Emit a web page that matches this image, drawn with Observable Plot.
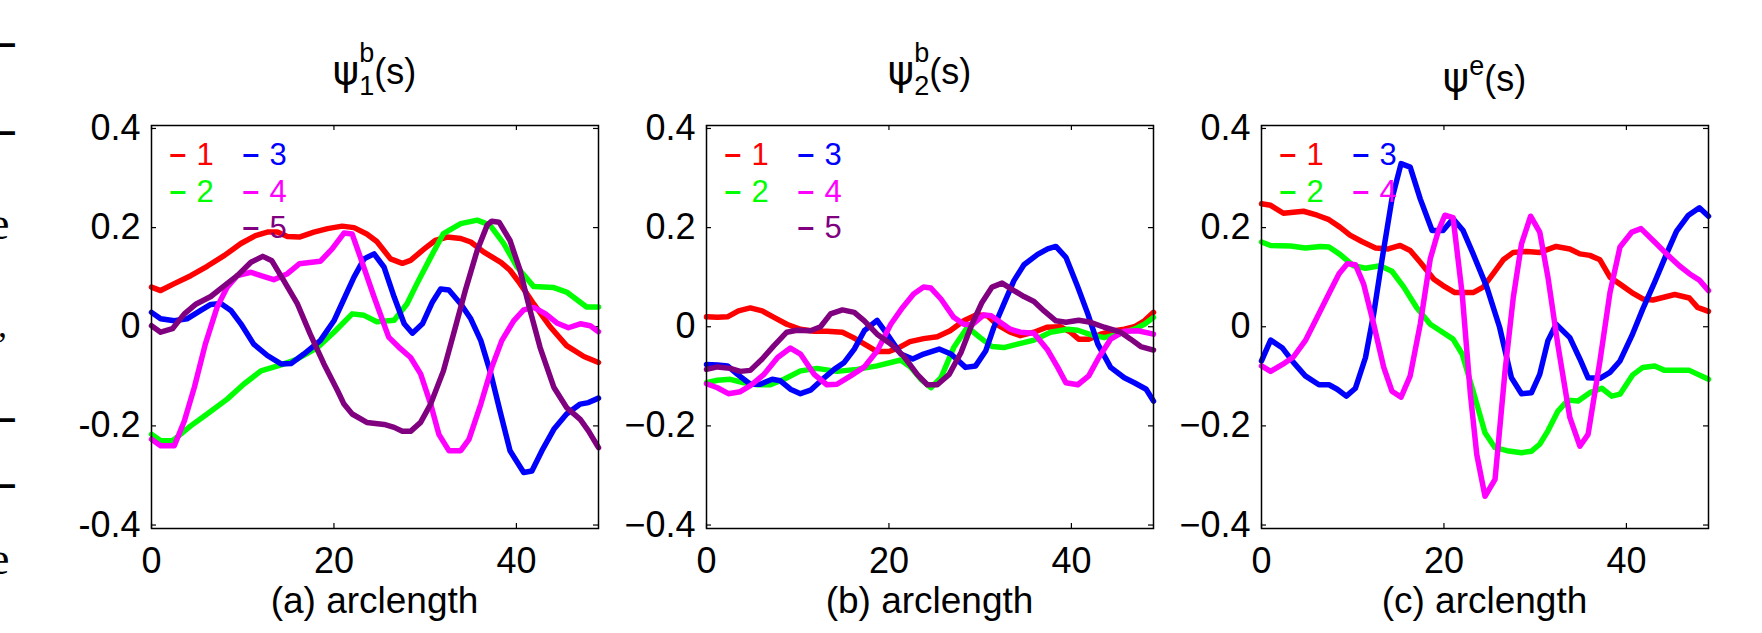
<!DOCTYPE html>
<html><head><meta charset="utf-8">
<script src="https://cdn.jsdelivr.net/npm/d3@7"></script>
<script src="https://cdn.jsdelivr.net/npm/@observablehq/plot@0.6"></script>
<style>
body{margin:0;background:#fff;}
#wrap{position:relative;width:1762px;height:633px;overflow:hidden;background:#fff;}
#wrap svg{position:absolute;top:0;}
</style></head><body><div id="wrap"></div>
<script>
const xTicks = [0, 20, 40];
const yTicks = [-0.4, -0.2, 0, 0.2, 0.4];
const modeLabels = ["1", "2", "3", "4", "5"];
const modeColors = ["#ff0000", "#00ff00", "#0000ff", "#ff00ff", "#800080"];
const xLabels = ["(a) arclength", "(b) arclength", "(c) arclength"];
const titleSups = ["b", "b", "e"];
const titleSubs = ["1", "2", ""];

// Panel (a): psi_1^b(s)
const a1 = [[0,0.080],[1,0.073],[2.5,0.087],[4.3,0.103],[6.1,0.122],[8,0.144],[9.8,0.168],[11.4,0.184],[12.7,0.191],[13.8,0.191],[14.9,0.182],[16.2,0.181],[17.8,0.191],[19.3,0.198],[20.9,0.203],[22.2,0.2],[23.6,0.187],[24.7,0.172],[26.2,0.137],[27.5,0.128],[28.4,0.134],[29.9,0.157],[31.1,0.174],[32.4,0.181],[33.9,0.178],[35,0.171],[36.4,0.151],[38.3,0.13],[39.3,0.114],[40.4,0.087],[41.9,0.046],[43.7,0],[45.5,-0.038],[47.4,-0.06],[49,-0.072]];
const a2 = [[0,-0.217],[1,-0.23],[2.3,-0.23],[4.3,-0.2],[6.1,-0.176],[8.3,-0.146],[10.1,-0.116],[12,-0.089],[14.2,-0.077],[16,-0.065],[18.2,-0.042],[20,-0.011],[22,0.026],[23.3,0.023],[24.7,0.01],[26.6,0.013],[28,0.046],[29.1,0.087],[30.6,0.14],[32,0.188],[33.9,0.208],[35.7,0.215],[37.1,0.205],[38.6,0.168],[40.1,0.12],[41.9,0.081],[44.1,0.079],[45.5,0.07],[47.7,0.04],[49,0.04]];
const a3 = [[0,0.029],[1,0.016],[2.5,0.012],[3.9,0.016],[5.4,0.033],[6.5,0.045],[7.6,0.047],[8.7,0.033],[9.8,0.006],[11.2,-0.035],[12.7,-0.058],[14.2,-0.075],[15.3,-0.074],[16.7,-0.055],[18.5,-0.028],[20,0.012],[21.1,0.056],[22.2,0.1],[23.3,0.137],[24.4,0.147],[25.5,0.12],[26.6,0.06],[27.7,0.006],[28.6,-0.013],[29.7,0.006],[30.8,0.05],[31.7,0.076],[32.6,0.074],[33.9,0.046],[35,0.016],[36.1,-0.028],[37.2,-0.095],[38.2,-0.17],[39.3,-0.25],[40.8,-0.294],[41.7,-0.291],[42.8,-0.25],[44.1,-0.207],[45.5,-0.176],[47,-0.156],[47.9,-0.153],[49,-0.144]];
const a4 = [[0,-0.227],[1,-0.24],[2.5,-0.24],[3.6,-0.19],[4.7,-0.122],[5.9,-0.035],[7.2,0.04],[8.3,0.08],[9.4,0.103],[10.9,0.11],[12,0.103],[13.4,0.095],[14.9,0.107],[16.2,0.127],[18.5,0.132],[19.8,0.157],[21.1,0.189],[22,0.187],[22.9,0.14],[24.4,0.06],[26,-0.021],[27.1,-0.041],[28.4,-0.062],[29.5,-0.095],[30.6,-0.156],[31.5,-0.217],[32.6,-0.25],[33.9,-0.25],[34.8,-0.227],[36.1,-0.156],[37.3,-0.082],[38.4,-0.028],[39.7,0.012],[40.8,0.034],[41.9,0.039],[43.2,0.026],[44.5,0.007],[45.7,-0.002],[47,0.006],[48.1,0.002],[49,-0.01]];
const a5 = [[0,0.002],[1,-0.011],[2.3,-0.004],[3.6,0.026],[4.9,0.046],[6.5,0.061],[8,0.083],[9.4,0.103],[10.9,0.13],[12.2,0.142],[13.2,0.133],[14.5,0.093],[16,0.046],[17.4,-0.015],[18.9,-0.075],[20.4,-0.129],[21.1,-0.156],[22,-0.176],[23.6,-0.193],[25.5,-0.197],[26.6,-0.203],[27.5,-0.211],[28.4,-0.211],[29.5,-0.193],[30.6,-0.156],[32,-0.089],[33.1,-0.015],[34.4,0.073],[35.7,0.154],[36.8,0.205],[37.3,0.213],[38.1,0.211],[39.3,0.174],[40.4,0.114],[41.5,0.033],[42.6,-0.042],[44.1,-0.122],[45.5,-0.163],[47,-0.187],[47.9,-0.21],[49,-0.244]];

// Panel (b): psi_2^b(s)
const b1 = [[0,0.02],[1.2,0.019],[2.3,0.02],[3.5,0.032],[4.8,0.038],[6.1,0.032],[7.4,0.019],[8.8,0.005],[10.3,-0.005],[11.8,-0.009],[13.2,-0.009],[14.9,-0.011],[16.1,-0.022],[17.6,-0.038],[18.7,-0.05],[20,-0.05],[21.1,-0.042],[22.3,-0.03],[23.8,-0.024],[25.3,-0.02],[26.7,-0.008],[28.2,0.012],[29.6,0.024],[30.8,0.022],[31.8,0.005],[33.3,-0.011],[34.4,-0.018],[35.9,-0.011],[37.3,-0.001],[38.8,0],[39.9,-0.011],[40.8,-0.025],[41.9,-0.025],[43.2,-0.015],[44.7,-0.008],[45.8,-0.005],[46.9,0],[48,0.012],[49,0.029]];
const b2 = [[0,-0.113],[1.2,-0.108],[2.6,-0.106],[4.1,-0.113],[5.6,-0.117],[7,-0.117],[8.5,-0.106],[10.3,-0.089],[12.1,-0.084],[14.3,-0.09],[16.5,-0.086],[18.7,-0.079],[21.3,-0.067],[22.4,-0.082],[23.5,-0.106],[24.6,-0.123],[25.7,-0.103],[27.1,-0.042],[28.6,-0.001],[30,-0.022],[31.3,-0.04],[32.6,-0.042],[34.1,-0.035],[35.9,-0.027],[37.7,-0.011],[39.6,-0.005],[40.7,-0.007],[42.1,-0.016],[43.6,-0.022],[45,-0.016],[46.9,-0.005],[48,0.005],[49,0.019]];
const b3 = [[0,-0.076],[1.2,-0.077],[2.3,-0.079],[3.4,-0.096],[4.8,-0.116],[5.9,-0.116],[7.2,-0.106],[8.1,-0.109],[9.2,-0.126],[10.3,-0.135],[11.4,-0.128],[12.9,-0.103],[14,-0.086],[15.1,-0.072],[16.2,-0.045],[17.3,-0.008],[18.7,0.013],[19.8,-0.015],[21.3,-0.055],[22.6,-0.065],[23.8,-0.055],[25.5,-0.045],[26.8,-0.055],[28.4,-0.082],[29.5,-0.079],[30.6,-0.049],[31.5,-0.001],[32.6,0.046],[33.7,0.093],[34.8,0.125],[36.3,0.146],[37.4,0.157],[38.3,0.162],[39.4,0.14],[40.7,0.08],[41.8,0.026],[42.9,-0.035],[44.3,-0.082],[45.8,-0.103],[46.9,-0.113],[48.2,-0.126],[49,-0.15]];
const b4 = [[0,-0.115],[1.2,-0.123],[2.4,-0.135],[3.7,-0.131],[4.8,-0.119],[6.3,-0.096],[7.8,-0.062],[9.2,-0.043],[10.3,-0.055],[11.8,-0.096],[13.2,-0.117],[14.3,-0.116],[15.8,-0.099],[17.3,-0.081],[18.7,-0.049],[20.2,0.005],[21.5,0.039],[22.7,0.066],[23.8,0.08],[24.6,0.078],[25.7,0.056],[27.1,0.019],[28.2,0.005],[29.1,0.004],[30.4,0.024],[31.2,0.022],[32.2,0.009],[33.3,-0.005],[34.4,-0.011],[35.9,-0.013],[37.4,-0.047],[38.5,-0.082],[39.4,-0.113],[40.7,-0.117],[41.9,-0.099],[43,-0.062],[44.3,-0.025],[45.8,-0.009],[47.3,-0.008],[49,-0.015]];
const b5 = [[0,-0.086],[1.2,-0.081],[2.6,-0.084],[3.7,-0.09],[4.8,-0.088],[6.1,-0.065],[7.4,-0.038],[8.8,-0.011],[9.9,-0.007],[11.4,-0.008],[12.5,0],[13.6,0.026],[14.9,0.034],[16.2,0.029],[17.3,0.012],[18.7,-0.015],[20.2,-0.035],[21.6,-0.059],[23.1,-0.096],[24.2,-0.117],[25.3,-0.117],[26.6,-0.096],[27.9,-0.052],[29.1,0.005],[30.2,0.049],[31.3,0.08],[32.4,0.088],[33.7,0.073],[34.8,0.061],[35.9,0.051],[37,0.032],[38.3,0.012],[39.4,0.009],[40.8,0.013],[42.1,0.009],[43.6,-0.001],[45.4,-0.011],[46.5,-0.025],[47.6,-0.04],[49,-0.047]];

// Panel (c): psi^e(s)
const c1 = [[0,0.248],[1,0.245],[2.4,0.229],[4.6,0.233],[6.1,0.225],[7.4,0.216],[8.6,0.201],[9.7,0.185],[11,0.172],[12.5,0.159],[13.9,0.157],[15.2,0.164],[16.3,0.154],[17.4,0.13],[18.9,0.096],[19.9,0.083],[21.2,0.069],[23.2,0.069],[24.3,0.08],[25.4,0.107],[26.5,0.135],[27.6,0.15],[29.1,0.152],[30.5,0.15],[32.3,0.162],[33.8,0.157],[34.9,0.147],[36,0.144],[37.1,0.135],[38.2,0.1],[39.3,0.086],[40.6,0.069],[41.8,0.056],[42.9,0.054],[44,0.059],[45.3,0.065],[46.9,0.058],[47.8,0.039],[49,0.031]];
const c2 = [[0,0.171],[1,0.164],[3.2,0.163],[4.8,0.159],[6.5,0.162],[7.4,0.161],[8.6,0.146],[10.1,0.123],[11.4,0.118],[13,0.123],[14.3,0.112],[15.6,0.08],[17,0.039],[18.5,0.005],[19.6,-0.008],[21,-0.025],[22,-0.055],[23.2,-0.13],[24.5,-0.214],[25.6,-0.244],[26.9,-0.25],[28.5,-0.254],[29.6,-0.251],[30.5,-0.237],[31.4,-0.21],[32.5,-0.17],[33.6,-0.148],[34.7,-0.15],[36,-0.133],[37.3,-0.124],[38.4,-0.14],[39.3,-0.136],[40.7,-0.097],[41.8,-0.082],[43.1,-0.079],[44.2,-0.088],[46.9,-0.088],[49,-0.106]];
const c3 = [[0,-0.069],[1,-0.027],[2.3,-0.043],[3.5,-0.072],[4.8,-0.099],[6.3,-0.117],[7.4,-0.117],[8.3,-0.126],[9.3,-0.14],[10.3,-0.124],[11.4,-0.062],[12.3,0.026],[13.2,0.134],[14.3,0.258],[15.3,0.329],[16.3,0.322],[17.4,0.258],[18.7,0.194],[19.9,0.194],[21,0.218],[22.1,0.194],[23.2,0.147],[24.7,0.08],[26.1,-0.001],[27.4,-0.103],[28.5,-0.135],[29.6,-0.133],[30.5,-0.096],[31.4,-0.028],[32.3,0.005],[33.8,-0.022],[34.9,-0.065],[35.8,-0.103],[37.1,-0.104],[38.2,-0.092],[39.3,-0.069],[40.6,-0.018],[41.8,0.036],[43.1,0.09],[44.4,0.147],[45.5,0.193],[46.8,0.225],[48,0.24],[49,0.223]];
const c4 = [[0,-0.079],[1,-0.09],[2.3,-0.076],[3.5,-0.061],[4.8,-0.028],[6.1,0.019],[7.4,0.067],[8.5,0.107],[9.4,0.127],[10.3,0.125],[11.2,0.086],[12.3,0.005],[13.4,-0.082],[14.3,-0.13],[15.3,-0.142],[16.3,-0.099],[17.4,0.005],[18.5,0.137],[19.4,0.194],[20.1,0.225],[21,0.22],[22,0.066],[22.9,-0.136],[23.6,-0.258],[24.5,-0.342],[25.6,-0.308],[26.7,-0.089],[27.6,0.059],[28.5,0.167],[29.5,0.223],[30.5,0.191],[31.4,0.1],[32.5,-0.038],[33.8,-0.183],[34.9,-0.241],[35.8,-0.217],[37.1,-0.069],[38.2,0.069],[39.3,0.161],[40.6,0.191],[41.6,0.198],[43.1,0.171],[44.4,0.147],[45.8,0.123],[46.9,0.107],[48,0.094],[49,0.073]];

const panels = [
  {left: 0, series: [a1, a2, a3, a4, a5], minus: "-", titleY: 84},
  {left: 555, series: [b1, b2, b3, b4, b5], minus: "\u2212", titleY: 84},
  {left: 1110, series: [c1, c2, c3, c4], minus: "\u2212", titleY: 91}
];

const W = 600, H = 633, mL = 151, mT = 125, mB = 105, frameW = 447;
const frameH = H - mT - mB;
const FONT = "Liberation Sans, Arial, Helvetica, sans-serif";
const wrap = document.getElementById("wrap");

panels.forEach((p, pi) => {
  const rows = [];
  p.series.forEach((s, k) => s.forEach(([x, y]) => rows.push({x, y, k})));
  const fmt = d => d === 0 ? "0" : (d < 0 ? p.minus + Math.abs(d).toFixed(1) : d.toFixed(1));
  const legendMarks = [];
  p.series.forEach((s, i) => {
    const col = i < 2 ? 0 : 1, row = i < 2 ? i : i - 2;
    legendMarks.push(Plot.text([modeLabels[i]], {text: () => "\u2013", frameAnchor: "top-left", textAnchor: "start", lineAnchor: "middle",
      dx: 18 + col * 73, dy: 29 + row * 36.5, fill: modeColors[i], fontSize: 30, fontWeight: "bold"}));
    legendMarks.push(Plot.text([modeLabels[i]], {text: d => d, frameAnchor: "top-left", textAnchor: "start", lineAnchor: "middle",
      dx: 45 + col * 73, dy: 30 + row * 36.5, fill: modeColors[i], fontSize: 31}));
  });
  const svg = Plot.plot({
    width: W, height: H, marginLeft: mL, marginRight: W - mL - frameW, marginTop: mT, marginBottom: mB,
    x: {domain: [0, 49]},
    y: {domain: [-0.407, 0.406]},
    color: {type: "ordinal", domain: [0, 1, 2, 3, 4], range: modeColors},
    style: {fontFamily: FONT, fontSize: "36px", color: "#000", background: "transparent", overflow: "visible"},
    marks: [
      Plot.axisX(xTicks, {tickSize: 0, tickPadding: 19, fontSize: 36, label: null, tickFormat: d => String(d)}),
      Plot.axisY(yTicks, {tickSize: 0, tickPadding: 11, fontSize: 36, label: null, tickFormat: fmt}),
      Plot.ruleY(yTicks, {stroke: "#000", strokeWidth: 1.2, insetRight: frameW - 5}),
      Plot.ruleY(yTicks, {stroke: "#000", strokeWidth: 1.2, insetLeft: frameW - 5}),
      Plot.ruleX(xTicks, {stroke: "#000", strokeWidth: 1.2, insetTop: frameH - 5}),
      Plot.ruleX(xTicks, {stroke: "#000", strokeWidth: 1.2, insetBottom: frameH - 5}),
      Plot.line(rows, {x: "x", y: "y", z: "k", stroke: "k", strokeWidth: 5.5, strokeLinejoin: "round"}),
      Plot.frame({stroke: "#000", strokeWidth: 1.5}),
      ...legendMarks
    ]
  });
  svg.style.left = p.left + "px";
  wrap.appendChild(svg);
  const s = d3.select(svg);
  const cx = mL + frameW / 2;
  // Title
  const t = s.append("text").attr("x", cx).attr("y", p.titleY).attr("text-anchor", "middle")
    .attr("font-family", FONT).attr("font-size", 36).attr("fill", "#000");
  t.append("tspan").attr("font-family", "DejaVu Sans, Liberation Sans, sans-serif").attr("font-size", 40).text("\u03c8");
  if (titleSubs[pi]) {
    t.append("tspan").attr("font-size", 27).attr("dy", -22).text(titleSups[pi]);
    t.append("tspan").attr("font-size", 27).attr("dx", -15).attr("dy", 33).text(titleSubs[pi]);
    t.append("tspan").attr("dy", -11).text("(s)");
  } else {
    t.append("tspan").attr("font-size", 27).attr("dy", -16).text(titleSups[pi]);
    t.append("tspan").attr("dy", 16).text("(s)");
  }
  // x label
  s.append("text").attr("x", cx).attr("y", 613).attr("text-anchor", "middle")
    .attr("font-family", FONT).attr("font-size", 37).attr("fill", "#000").text(xLabels[pi]);
});

// Cropped fragments of neighbouring text at the left page edge
const edge = d3.select(wrap).append("svg").attr("width", 40).attr("height", 633).style("left", "0px");
const edgeMarks = [["\u2013", 45], ["\u2013", 133], ["e", 225], [",", 327], ["\u2013", 420], ["\u2013", 486], ["e", 560]];
edgeMarks.forEach(([ch, y]) => {
  const isE = ch === "e";
  edge.append("text").attr("x", isE ? -11 : (ch === "," ? -2 : -4)).attr("y", y + (isE ? 14 : 10))
    .attr("font-family", ch === "\u2013" ? FONT : "Liberation Serif, serif").attr("font-size", isE ? 46 : 36).attr("font-weight", ch === "\u2013" ? "bold" : "normal")
    .attr("fill", "#000").text(ch);
});
</script>
</body></html>
